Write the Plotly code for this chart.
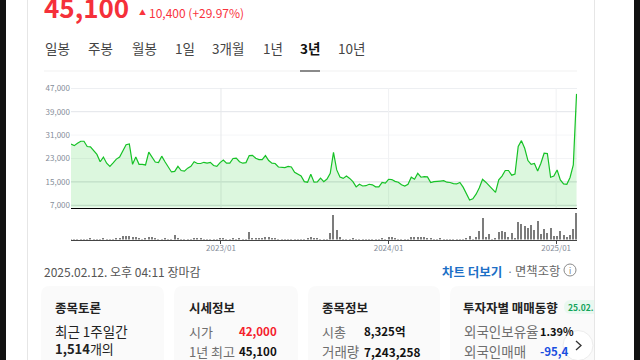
import pandas as pd
import plotly.graph_objects as go

W, H = 640, 360
FONT = "Noto Sans CJK KR"
RED = "#f9333d"
GRAY = "#6e6e6e"

start_date = "2022-02-14"
price = [
 27900,27400,28200,28900,28900,27100,27000,25600,24400,21900,23500,21400,20300,21500,22800,23500,25600,27700,28000,21000,
 23500,21000,21000,20800,25200,23400,21800,21600,23800,21900,20100,18400,18600,20300,18900,18700,19700,20300,21900,21300,
 21300,21700,21400,21700,20600,20300,21600,22500,21400,21400,23000,23100,21900,
 21400,21600,24000,24100,23100,22600,22600,24000,22300,21400,21300,20100,20000,19900,20300,20100,18300,17600,17000,15100,
 14900,17600,14900,15000,16300,15100,16000,17900,25100,19100,16700,16200,17000,16200,15100,13300,14200,13600,13700,14200,
 14000,13300,13300,14800,14600,15900,15800,15200,14900,14000,13600,14200,16600,15900,17900,16600,16800,16700,
 14800,15100,15100,15300,15400,14900,14800,14400,14300,14800,13200,11100,8800,9200,10800,13000,15900,14900,13700,12600,
 11400,15700,17000,18900,18900,17300,17700,27100,29100,26500,22300,21000,21300,18700,21400,24800,24700,16600,17000,19100,
 15700,14300,14200,16500,20800,45100,
]
volume = [
 9,9,9,9,9,9,18,9,9,9,18,9,9,9,36,36,85,85,85,70,55,20,9,20,70,70,20,9,9,18,9,9,125,20,9,9,9,9,36,36,
 36,9,9,9,9,9,36,36,9,9,18,9,18,9,9,205,20,36,36,20,55,55,36,20,9,9,5,5,5,5,9,9,9,20,55,20,20,9,9,9,
 180,675,260,70,9,9,9,36,9,9,9,9,9,9,9,9,20,9,70,70,36,9,9,9,9,70,70,70,70,70,36,36,9,9,20,5,5,5,9,9,
 9,9,36,100,9,70,235,594,70,150,9,36,205,235,205,70,180,36,486,432,378,324,405,260,513,150,297,180,324,100,100,235,125,70,125,297,724,
]
price_ticks = [47000, 39000, 31000, 23000, 15000, 7000]
year_ticks = ["2023-01-04", "2024-01-01", "2024-12-28"]
year_labels = ["2023/01", "2024/01", "2025/01"]
tabs = ["일봉", "주봉", "월봉", "1일", "3개월", "1년", "3년", "10년"]

dates = pd.date_range(start_date, periods=len(price), freq="7D")


def px(x):
    return x / W


def py(y):
    return 1 - y / H


fig = go.Figure()
fig.add_trace(go.Scatter(x=dates, y=price, mode="lines", line=dict(color="#16c226", width=1.2),
                         fill="tozeroy", fillcolor="rgba(40,205,50,0.16)", xaxis="x", yaxis="y",
                         hoverinfo="skip"))
fig.add_trace(go.Bar(x=dates, y=volume, marker=dict(color="#7c7c7c", line_width=0), width=1000*3600*24*2.4,
                     xaxis="x2", yaxis="y2", hoverinfo="skip"))

shapes = []


def rect(x0, y0, x1, y1, color):
    shapes.append(dict(type="rect", xref="paper", yref="paper", x0=px(x0), x1=px(x1), y0=py(y1), y1=py(y0),
                       fillcolor=color, line_width=0, layer="below"))


def card(x0, y0, x1, y1, r=9, round_right=True):
    p = f"M{px(x0)},{py(y1)} L{px(x0)},{py(y0+r)} Q{px(x0)},{py(y0)} {px(x0+r)},{py(y0)} "
    if round_right:
        p += f"L{px(x1-r)},{py(y0)} Q{px(x1)},{py(y0)} {px(x1)},{py(y0+r)} "
    else:
        p += f"L{px(x1)},{py(y0)} "
    p += f"L{px(x1)},{py(y1)} Z"
    shapes.append(dict(type="path", xref="paper", yref="paper", path=p, fillcolor="#fafafa", line_width=0, layer="below"))


# page frame
rect(0, 0, 6, H, "#111111")
rect(634, 0, 640, H, "#111111")
rect(27, 0, 28, H, "#e6e6e6")
rect(594, 0, 595, H, "#e6e6e6")
# tab rule
rect(44, 70, 577, 72, "#f8f8f8")
rect(300, 70, 320, 72, "#8a8a8a")
# cards
card(41, 286, 164, 372)
card(174, 286, 298, 372)
card(308, 286, 440, 372)
card(450, 286, 594, 372, round_right=False)
# grid lines
grid_colors = ["#e2e4e9", "#e2e4e9", "#f5f6f8", "#f3f4f6", "#d6dadd", "#d6dadd"]
for v, c in zip(price_ticks, grid_colors):
    shapes.append(dict(type="line", xref="paper", yref="y", x0=px(71), x1=px(577), y0=v, y1=v,
                       line=dict(color=c, width=1), layer="below"))
for d, c in zip(year_ticks, ["#e6e8ea", "#f0f1f3", "#f0f1f3"]):
    shapes.append(dict(type="line", xref="x", yref="paper", x0=d, x1=d, y0=py(208), y1=py(88),
                       line=dict(color=c, width=1), layer="below"))
# badge
shapes.append(dict(type="path", xref="paper", yref="paper", fillcolor="#e9f8f0", line_width=0,
                   path=f"M{px(594)},{py(300)} L{px(571)},{py(300)} Q{px(564)},{py(300)} {px(564)},{py(307)} "
                        f"Q{px(564)},{py(314)} {px(571)},{py(314)} L{px(594)},{py(314)} Z"))
# info icon
shapes.append(dict(type="circle", xref="paper", yref="paper", x0=px(564), x1=px(576), y0=py(276), y1=py(264),
                   line=dict(color="#8a8a8a", width=1), fillcolor="rgba(0,0,0,0)"))
# next button
shapes.append(dict(type="circle", xref="paper", yref="paper", x0=px(563), x1=px(593), y0=py(360.5), y1=py(330.5),
                   line=dict(color="#ececec", width=1), fillcolor="#ffffff"))
shapes.append(dict(type="path", xref="paper", yref="paper",
                   path=f"M{px(576)},{py(341)} L{px(581)},{py(345.5)} L{px(576)},{py(350)}",
                   line=dict(color="#333333", width=1.3)))

ann = []


def text(x, y, s, size=12, color="#333333", bold=False, anchor="left"):
    ann.append(dict(xref="paper", yref="paper", x=px(x), y=py(y), text=f"<b>{s}</b>" if bold else s,
                    showarrow=False, xanchor=anchor, yanchor="middle", xshift=0, yshift=0,
                    font=dict(family=FONT, size=size, color=color), borderpad=0))


text(43, 6.5, "45,100", 26, "#f5303a", True)
text(138, 12, "▲", 7, RED)
text(148, 13, "10,400 (+29.97%)", 12, RED)
tab_x = [44, 87, 131, 174, 211, 262, 299, 337]
for i, (t, x) in enumerate(zip(tabs, tab_x)):
    text(x, 48, t, 13.5, "#111111" if t == "3년" else "#444444", t == "3년")

text(43, 271, "2025.02.12. 오후 04:11 장마감", 12, "#555555")
text(441, 271, "차트 더보기", 12.5, "#1c6fc6", True)
text(506, 271, "·", 11, "#777777")
text(514, 271, "면책조항", 12.3, "#666666")
text(570, 270, "i", 8, "#777777", anchor="center")

text(54, 307, "종목토론", 12.5, "#222222", True)
text(54, 331, "최근 1주일간", 13.5, "#222222")
text(54, 348, "<b>1,514</b>개의", 13, "#222222")

text(188, 307, "시세정보", 12.5, "#222222", True)
text(188, 331, "시가", 13, GRAY)
text(278, 331, "42,000", 11.5, "#f5202c", True, "right")
text(188, 351, "1년 최고", 13, GRAY)
text(278, 351, "45,100", 11.5, "#111111", True, "right")

text(321, 307, "종목정보", 12.5, "#222222", True)
text(321, 331, "시총", 13, GRAY)
text(363, 331, "8,325억", 11.5, "#111111", True)
text(321, 351, "거래량", 13.5, GRAY)
text(363, 351, "7,243,258", 11.8, "#111111", True)

text(462, 307, "투자자별 매매동향", 12.5, "#222222", True)
text(567, 307, "25.02.", 8.5, "#12a35a", True)
text(463, 331, "외국인보유율", 13.5, GRAY)
text(539, 331, "1.39%", 11, "#111111", True)
text(463, 351, "외국인매매", 13.5, GRAY)
text(539, 351, "-95,4", 11.5, "#1a4fe0", True)

rng = [dates[0], dates[-1] + pd.Timedelta(days=1)]
fig.update_layout(
    width=W, height=H, margin=dict(l=0, r=0, t=0, b=0, autoexpand=False), autosize=False, showlegend=False,
    paper_bgcolor="#ffffff", plot_bgcolor="rgba(0,0,0,0)", bargap=0,
    font=dict(family=FONT),
    shapes=shapes, annotations=ann,
    xaxis=dict(domain=[px(71), px(577)], range=rng, anchor="y", showgrid=False, showticklabels=False, ticks="",
               showline=True, linecolor="#000000", linewidth=1, zeroline=False),
    yaxis=dict(domain=[py(207.5), py(88.3)], range=[6250, 47000], tickvals=price_ticks, tickformat=",d",
               showgrid=False, zeroline=False, tickfont=dict(size=8, color="#858d99", family=FONT), ticks="", anchor="x"),
    xaxis2=dict(domain=[px(71), px(577)], range=rng, anchor="y2", tickvals=year_ticks, ticktext=year_labels,
                showgrid=False, showline=True, linecolor="#444444", linewidth=1, ticks="outside", ticklen=3,
                ticklabelstandoff=-2,
                tickcolor="#444444", tickwidth=1, zeroline=False, tickangle=0,
                tickfont=dict(size=8, color="#858d99", family=FONT)),
    yaxis2=dict(domain=[py(239.5), py(213)], range=[0, 724], visible=False, anchor="x2"),
)

fig.write_html("out.html", config={"displayModeBar": False},
               post_script="document.body.style.margin='0';document.body.style.overflow='hidden';")
